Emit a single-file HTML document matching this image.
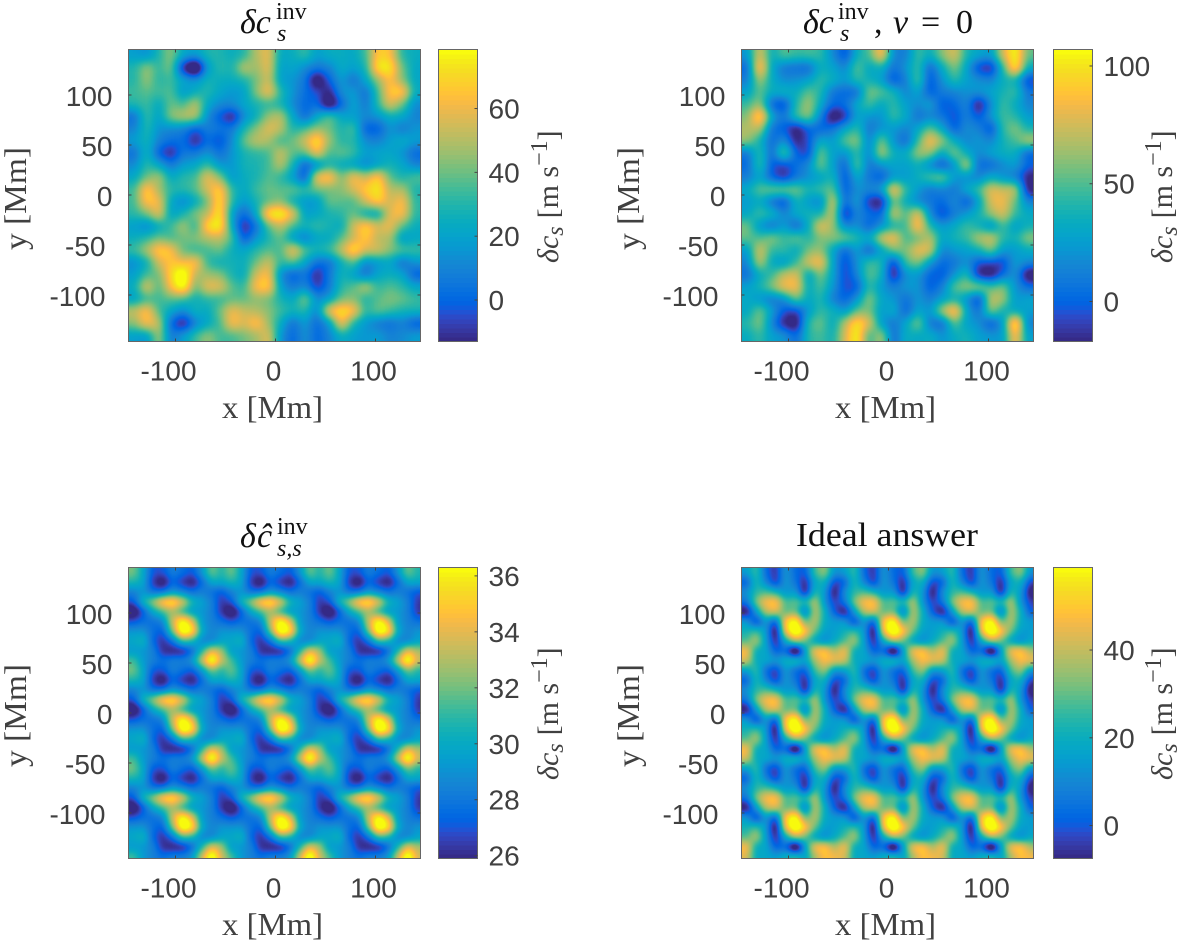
<!DOCTYPE html>
<html>
<head>
<meta charset="utf-8">
<title>Sound speed perturbation maps</title>
<style>
html,body{margin:0;padding:0;background:#fff;}
svg{display:block;}
.tick{font-family:"Liberation Sans",sans-serif;font-size:28px;fill:#404040;}
.lab{font-family:"Liberation Serif",serif;font-size:32px;fill:#404040;}
.cbl{font-family:"Liberation Serif",serif;font-size:30px;fill:#404040;}
.ttl{font-family:"Liberation Serif",serif;font-size:34px;fill:#111;}
.sm{font-size:24px;}
.it{font-style:italic;}
</style>
</head>
<body>
<svg id="fig" xmlns="http://www.w3.org/2000/svg" width="1200" height="946" viewBox="0 0 1200 946">
<rect x="0" y="0" width="1200" height="946" fill="#fff"/>
<defs id="defs"></defs>

<g class="ttl">
<text x="240" y="33" class="it">δc</text>
<text x="276" y="19" class="sm">inv</text>
<text x="277" y="41" class="sm it">s</text>
</g>
<g class="ttl">
<text x="803" y="33" class="it">δc</text>
<text x="838" y="19" class="sm">inv</text>
<text x="840" y="41" class="sm it">s</text>
<text x="874" y="33">,</text>
<text x="893" y="33" class="it">ν</text>
<text x="921" y="33">=</text>
<text x="956" y="33">0</text>
</g>
<g class="ttl">
<text x="240" y="547" class="it">δ</text>
<text x="257" y="547" class="it">ĉ</text>
<text x="277" y="534" class="sm">inv</text>
<text x="277" y="556" class="sm it">s,s</text>
</g>
<text class="ttl" x="796" y="546" textLength="182" lengthAdjust="spacingAndGlyphs">Ideal answer</text>

<text class="lab" x="222" y="418" textLength="101" lengthAdjust="spacingAndGlyphs">x [Mm]</text>
<text class="lab" x="835" y="418" textLength="101" lengthAdjust="spacingAndGlyphs">x [Mm]</text>
<text class="lab" x="222" y="935" textLength="101" lengthAdjust="spacingAndGlyphs">x [Mm]</text>
<text class="lab" x="835" y="935" textLength="101" lengthAdjust="spacingAndGlyphs">x [Mm]</text>

<text class="lab" transform="translate(26,250) rotate(-90)" textLength="103" lengthAdjust="spacingAndGlyphs">y [Mm]</text>
<text class="lab" transform="translate(639,250) rotate(-90)" textLength="103" lengthAdjust="spacingAndGlyphs">y [Mm]</text>
<text class="lab" transform="translate(26,767) rotate(-90)" textLength="103" lengthAdjust="spacingAndGlyphs">y [Mm]</text>
<text class="lab" transform="translate(639,767) rotate(-90)" textLength="103" lengthAdjust="spacingAndGlyphs">y [Mm]</text>

<text class="cbl" transform="translate(558,263) rotate(-90)"><tspan class="it">δc</tspan><tspan class="it sm" dy="5">s</tspan><tspan dx="8" dy="-5">[m s</tspan><tspan class="sm" dy="-11">−1</tspan><tspan dy="11">]</tspan></text>
<text class="cbl" transform="translate(1172,263) rotate(-90)"><tspan class="it">δc</tspan><tspan class="it sm" dy="5">s</tspan><tspan dx="8" dy="-5">[m s</tspan><tspan class="sm" dy="-11">−1</tspan><tspan dy="11">]</tspan></text>
<text class="cbl" transform="translate(558,780) rotate(-90)"><tspan class="it">δc</tspan><tspan class="it sm" dy="5">s</tspan><tspan dx="8" dy="-5">[m s</tspan><tspan class="sm" dy="-11">−1</tspan><tspan dy="11">]</tspan></text>
<text class="cbl" transform="translate(1172,780) rotate(-90)"><tspan class="it">δc</tspan><tspan class="it sm" dy="5">s</tspan><tspan dx="8" dy="-5">[m s</tspan><tspan class="sm" dy="-11">−1</tspan><tspan dy="11">]</tspan></text>
</svg>

<script>
// ---- Chart data (values in m/s, rows from top to bottom) ----
const xTicks = [-100, 0, 100];
const yTicks = [100, 50, 0, -50, -100];

const panel1Limits = [-13, 78.5];
const panel2Limits = [-17, 107];
const panel3Limits = [25.9, 36.3];
const panel4Limits = [-7.5, 58.8];

const panel1Bar = [0, 20, 40, 60];
const panel2Bar = [0, 50, 100];
const panel3Bar = [26, 28, 30, 32, 34, 36];
const panel4Bar = [0, 20, 40];

const panel1Values = [
[28,25,35,45,30,28,35,35,32,35,48,55,30,32,38,28,32,32,30,38,60,58,35,32],
[35,46,36,44,6,-12,28,36,34,50,45,55,28,30,24,20,22,32,28,34,66,66,42,30],
[35,46,35,38,30,26,34,32,32,34,42,52,28,26,20,-2,16,28,18,30,45,58,44,30],
[38,40,38,40,26,32,36,30,26,28,44,58,36,26,18,14,6,26,28,18,38,60,62,32],
[35,38,30,42,38,50,30,24,24,30,34,36,34,24,16,18,-2,16,30,20,36,54,42,24],
[18,38,28,45,50,50,24,14,4,24,32,46,50,30,16,30,42,30,28,24,26,32,30,22],
[22,36,25,24,22,14,22,20,20,34,44,54,50,34,38,45,42,34,40,14,14,26,20,26],
[28,34,22,18,18,6,18,12,24,42,50,48,36,42,52,66,46,35,36,24,22,28,32,28],
[18,34,14,6,20,20,26,18,26,34,36,38,52,40,40,58,38,42,38,28,30,30,26,16],
[24,36,30,20,28,30,38,26,26,34,34,38,50,34,14,22,34,30,28,22,28,34,30,22],
[30,42,48,30,36,38,56,44,26,32,34,40,36,28,12,58,62,42,58,50,62,40,34,40],
[38,62,46,36,36,40,52,62,36,30,38,42,40,42,38,42,42,44,52,60,66,48,48,34],
[38,60,56,30,22,30,42,64,36,26,34,40,44,32,26,26,42,40,38,52,62,50,58,36],
[36,42,56,28,34,44,48,66,28,16,30,66,70,56,28,30,34,36,42,30,28,54,58,36],
[28,22,30,38,48,34,64,68,30,6,18,40,50,38,34,38,34,30,52,62,52,56,40,32],
[32,36,42,38,42,44,48,50,40,12,26,34,42,26,20,30,30,40,50,60,48,48,26,30],
[38,48,62,58,40,36,38,42,32,30,36,40,38,58,40,34,38,50,66,52,52,44,40,38],
[24,32,52,58,56,60,36,32,34,32,42,52,36,40,30,18,18,32,40,22,26,30,18,26],
[28,38,42,62,74,48,46,44,34,30,52,58,24,14,20,6,20,34,28,18,30,32,30,14],
[32,54,38,58,72,40,55,54,40,36,58,62,28,20,24,10,20,36,40,50,36,40,36,30],
[28,36,38,40,38,32,36,36,40,40,44,42,34,30,46,24,28,42,44,34,40,44,42,38],
[50,60,38,30,24,34,30,42,56,50,48,44,38,34,36,22,58,66,60,36,42,38,34,34],
[44,58,50,16,4,22,30,38,58,52,60,46,32,18,28,16,26,58,34,26,20,18,22,14],
[28,26,48,20,28,38,46,38,38,42,46,54,26,16,26,16,22,32,28,26,28,22,24,28]
];

const panel2Values = [
[35,72,42,55,50,52,50,32,16,44,52,82,30,28,52,42,60,72,46,40,36,70,92,55],
[22,85,40,26,24,22,44,40,30,56,40,44,24,35,52,20,42,60,40,14,8,48,92,42],
[28,64,42,32,34,38,50,44,36,50,44,38,16,28,56,16,34,50,38,34,30,44,44,14],
[38,55,42,46,42,56,48,26,22,22,60,55,46,30,40,18,28,30,34,36,40,45,52,26],
[50,62,20,14,48,65,42,22,24,42,52,40,50,38,32,40,18,22,32,4,32,52,42,30],
[58,92,40,26,52,62,30,0,10,40,34,34,52,42,24,30,26,16,30,18,36,52,48,36],
[65,66,24,20,4,22,20,26,40,50,26,34,36,30,40,56,40,18,34,30,14,50,60,45],
[62,45,22,34,8,18,42,36,56,62,28,60,34,22,50,80,62,42,30,36,30,45,52,66],
[26,50,22,62,20,14,60,38,34,50,30,68,44,42,64,62,40,62,42,32,40,44,44,20],
[22,52,18,14,24,32,60,38,20,58,26,34,40,38,44,30,16,34,72,22,22,32,38,22],
[28,40,20,10,26,34,38,46,16,42,26,18,36,36,44,54,60,36,32,30,42,34,28,8],
[42,56,60,62,60,46,52,56,18,34,32,38,82,50,36,26,30,26,42,52,74,68,70,6],
[36,42,24,14,45,36,28,72,22,40,10,4,58,42,30,26,22,34,16,38,72,76,56,30],
[40,52,46,30,42,46,44,70,6,32,24,20,72,52,76,32,14,28,36,45,62,72,50,42],
[58,34,24,38,20,42,76,62,30,34,20,34,44,50,84,46,36,42,52,44,30,52,36,44],
[56,52,62,50,58,46,58,60,60,48,42,72,80,50,54,68,40,46,50,66,72,48,45,62],
[36,72,48,50,40,58,62,40,20,38,20,38,58,58,76,72,30,36,38,44,60,36,36,42],
[30,68,40,34,50,72,80,40,14,34,52,48,10,52,60,36,22,26,34,18,16,14,38,32],
[24,42,50,68,72,36,60,40,14,30,56,46,4,34,36,20,18,34,50,6,2,22,36,0],
[38,46,60,76,78,40,54,36,16,18,50,36,28,36,36,18,28,56,62,64,52,60,34,24],
[42,34,26,32,58,40,48,28,20,34,62,40,36,24,36,28,38,44,34,12,70,64,36,40],
[40,58,38,18,14,36,50,45,34,56,58,36,44,20,40,34,66,88,40,24,62,44,40,38],
[48,60,30,8,2,50,58,40,66,88,72,36,26,40,62,26,22,56,38,34,16,36,98,28],
[42,50,38,36,22,48,52,44,70,92,48,66,22,44,40,44,34,42,46,38,36,36,80,38]
];

// Panels 3 and 4 are periodic: one 98 Mm period of the field.
const panel3Period = [
[32,30.5,28.5,28.5,29.5,29,28.5,30,32,31],
[31,30.5,28,27,28.8,28,27.3,28.8,30.5,30.5],
[29.5,30,29,29,30,29.5,29,29.5,29,28.5],
[28.5,31,32.5,34.5,35,33.5,31,30.3,29.5,28],
[26.8,28.5,30.5,31.5,32.5,31,30,30,29.5,28],
[28.5,29,29,29.5,33,35.5,33.5,30,29.5,29],
[30,30,29,28.5,32,36,35,30.5,29.5,30],
[30.5,31,28.8,27.8,29,31.5,31,29.5,29.5,30.3],
[30,30,29.5,27.8,27.5,27.5,28.8,31,33.5,32.5],
[31.5,30,29.5,29,29.5,29.5,30,33,36,33]
];

const panel4Period = [
[22,30,14,8,22,14,12,30,36,20],
[12,28,18,8,22,16,6,24,26,10],
[20,28,30,26,20,22,4,28,22,4],
[16,34,44,46,30,32,28,38,20,10],
[4,22,38,42,30,32,14,38,26,12],
[22,8,22,10,46,54,30,38,24,22],
[26,30,22,0,44,58,46,32,22,22],
[30,38,22,6,24,38,32,22,18,24],
[44,24,24,12,14,-10,22,44,46,36],
[40,24,24,22,26,30,22,36,44,42]
];

// Parula colour map
const parula = [
[.2081,.1663,.5292],[.2116,.1898,.5777],[.2123,.2138,.6270],[.2081,.2386,.6771],
[.1959,.2645,.7279],[.1707,.2919,.7792],[.1253,.3242,.8303],[.0591,.3598,.8683],
[.0117,.3875,.8820],[.0060,.4086,.8828],[.0165,.4266,.8786],[.0329,.4430,.8720],
[.0498,.4586,.8641],[.0629,.4737,.8554],[.0723,.4887,.8467],[.0779,.5040,.8384],
[.0793,.5200,.8312],[.0749,.5375,.8263],[.0641,.5570,.8240],[.0488,.5772,.8228],
[.0343,.5966,.8199],[.0265,.6137,.8135],[.0239,.6287,.8038],[.0231,.6418,.7913],
[.0228,.6535,.7768],[.0267,.6642,.7607],[.0384,.6743,.7436],[.0590,.6838,.7254],
[.0843,.6928,.7062],[.1133,.7015,.6859],[.1453,.7098,.6646],[.1801,.7177,.6424],
[.2178,.7250,.6193],[.2586,.7317,.5954],[.3022,.7376,.5712],[.3482,.7424,.5473],
[.3953,.7459,.5244],[.4420,.7481,.5033],[.4871,.7491,.4840],[.5300,.7491,.4661],
[.5709,.7485,.4494],[.6099,.7473,.4337],[.6473,.7456,.4188],[.6834,.7435,.4044],
[.7184,.7411,.3905],[.7525,.7384,.3768],[.7858,.7356,.3633],[.8185,.7327,.3498],
[.8507,.7299,.3360],[.8824,.7274,.3217],[.9139,.7258,.3063],[.9450,.7261,.2886],
[.9739,.7314,.2666],[.9938,.7455,.2403],[.9990,.7653,.2164],[.9955,.7861,.1967],
[.9880,.8066,.1794],[.9789,.8271,.1633],[.9697,.8481,.1475],[.9626,.8705,.1309],
[.9589,.8949,.1132],[.9598,.9218,.0948],[.9661,.9514,.0755],[.9763,.9831,.0538]
];

// ---- Rendering ----
const NS = 'http://www.w3.org/2000/svg';
const fig = document.getElementById('fig');
const defs = document.getElementById('defs');

function mk(tag, parent, attrs) {
  const el = document.createElementNS(NS, tag);
  for (const k in attrs) el.setAttribute(k, attrs[k]);
  parent.appendChild(el);
  return el;
}

// Blurs the grey value field (shading interp look), restores its contrast, then applies parula.
function makeFilter(id, sigma, slope, pivot) {
  const f = mk('filter', defs, {id: id, filterUnits: 'userSpaceOnUse', x: 0, y: 0, width: 1200, height: 946, 'color-interpolation-filters': 'sRGB'});
  mk('feGaussianBlur', f, {stdDeviation: sigma});
  const c = mk('feComponentTransfer', f, {});
  const icpt = pivot * (1 - slope);
  ['feFuncR', 'feFuncG', 'feFuncB'].forEach(n => mk(n, c, {type: 'linear', slope: slope, intercept: icpt}));
  const t = mk('feComponentTransfer', f, {});
  mk('feFuncR', t, {type: 'table', tableValues: parula.map(c => c[0]).join(' ')});
  mk('feFuncG', t, {type: 'table', tableValues: parula.map(c => c[1]).join(' ')});
  mk('feFuncB', t, {type: 'table', tableValues: parula.map(c => c[2]).join(' ')});
}
makeFilter('field-1', 5.2, 1.6, 0.62);
makeFilter('field-2', 5.2, 1.6, 0.6);
makeFilter('field-3', 4.2, 1.5, 0.55);
makeFilter('field-4', 4.2, 1.6, 0.62);

function drawPanel(p) {
  const xPx = v => p.left + (v - p.xMin);
  const yPx = v => p.top + (p.yMax - v);
  const grp = mk('g', fig, {});
  
  

  const clipId = p.name + '-clip';
  const cp = mk('clipPath', defs, {id: clipId});
  mk('rect', cp, {x: p.left, y: p.top, width: p.w, height: p.h});

  const clipG = mk('g', grp, {'clip-path': 'url(#' + clipId + ')'});
  const field = mk('g', clipG, {filter: 'url(#' + p.filter + ')', 'shape-rendering': 'crispEdges'});
  
  

  const nRows = p.values.length, nCols = p.values[0].length;
  const rows = p.repeat ? Math.ceil(p.h / p.cell) : nRows;
  const cols = p.repeat ? Math.ceil(p.w / p.cell) : nCols;
  const cw = p.repeat ? p.cell : p.w / cols;
  const ch = p.repeat ? p.cell : p.h / rows;
  const pad = 30;
  for (let r = 0; r < rows; r++) {
    for (let c = 0; c < cols; c++) {
      const v = p.values[r % nRows][c % nCols];
      const t = Math.max(0, Math.min(1, (v - p.limits[0]) / (p.limits[1] - p.limits[0])));
      const g = Math.round(t * 255);
      const x0 = xPx(p.xMin + c * cw) - (c === 0 ? pad : 0);
      const x1 = xPx(p.xMin + (c + 1) * cw) + (c === cols - 1 ? pad : 0);
      const y0 = yPx(p.yMax - r * ch) - (r === 0 ? pad : 0);
      const y1 = yPx(p.yMax - (r + 1) * ch) + (r === rows - 1 ? pad : 0);
      const cell = mk('rect', field, {x: x0, y: y0, width: x1 - x0 + 0.5, height: y1 - y0 + 0.5, fill: 'rgb(' + g + ',' + g + ',' + g + ')'});
      
      
    }
  }

  const frame = mk('rect', grp, {x: p.left, y: p.top, width: p.w, height: p.h, fill: 'none', stroke: '#666', 'stroke-width': 1});
  
  

  xTicks.forEach(v => {
    const x = xPx(v);
    const t1 = mk('line', grp, {x1: x, x2: x, y1: p.top, y2: p.top + 3, stroke: '#444'});
    
    
    const t2 = mk('line', grp, {x1: x, x2: x, y1: p.top + p.h, y2: p.top + p.h - 3, stroke: '#444'});
    
    
    const lbl = mk('text', grp, {class: 'tick', x: x + (v < 0 ? -7 : -2), y: p.top + p.h + 39, 'text-anchor': 'middle'});
    lbl.textContent = String(v);
    
    
  });
  yTicks.forEach(v => {
    const y = yPx(v);
    const t1 = mk('line', grp, {x1: p.left, x2: p.left + 3, y1: y, y2: y, stroke: '#444'});
    
    
    const t2 = mk('line', grp, {x1: p.left + p.w, x2: p.left + p.w - 3, y1: y, y2: y, stroke: '#444'});
    
    
    const lbl = mk('text', grp, {class: 'tick', x: p.left + (v < 0 ? -23 : -16), y: y + 11, 'text-anchor': 'end'});
    lbl.textContent = String(v);
    
    
  });

  // colour bar
  const bar = mk('g', grp, {'shape-rendering': 'crispEdges'});
  
  
  const barX = p.barX, barW = 39, barH = p.h;
  const barY = v => p.top + (p.limits[1] - v) / (p.limits[1] - p.limits[0]) * barH;
  parula.forEach((c, i) => {
    const v0 = p.limits[0] + (i + 1) / parula.length * (p.limits[1] - p.limits[0]);
    const v1 = p.limits[0] + i / parula.length * (p.limits[1] - p.limits[0]);
    const s = mk('rect', bar, {x: barX, y: barY(v0), width: barW, height: barY(v1) - barY(v0) + 0.6,
      fill: 'rgb(' + c.map(u => Math.round(u * 255)).join(',') + ')'});
    
    
  });
  const barFrame = mk('rect', grp, {x: barX, y: p.top, width: barW, height: barH, fill: 'none', stroke: '#666'});
  
  
  p.barTicks.forEach(v => {
    const y = barY(v);
    const t = mk('line', grp, {x1: barX + barW, x2: barX + barW - 3, y1: y, y2: y, stroke: '#444'});
    
    
    const lbl = mk('text', grp, {class: 'tick', x: barX + barW + 11, y: y + 10});
    lbl.textContent = String(v);
    
    
  });
}

drawPanel({name: 'panel-1', left: 128.5, top: 49.5, w: 292, h: 292, barX: 438.5, xMin: -147, yMax: 145.5, values: panel1Values, limits: panel1Limits, barTicks: panel1Bar, filter: 'field-1'});
drawPanel({name: 'panel-2', left: 741.5, top: 49.5, w: 292, h: 292, barX: 1053.5, xMin: -147, yMax: 145.5, values: panel2Values, limits: panel2Limits, barTicks: panel2Bar, filter: 'field-2'});
drawPanel({name: 'panel-3', left: 128.5, top: 567.5, w: 292, h: 291, barX: 438.5, xMin: -147, yMax: 145.5, values: panel3Period, limits: panel3Limits, barTicks: panel3Bar, filter: 'field-3', repeat: true, cell: 9.8});
drawPanel({name: 'panel-4', left: 741.5, top: 567.5, w: 292, h: 291, barX: 1053.5, xMin: -147, yMax: 145.5, values: panel4Period, limits: panel4Limits, barTicks: panel4Bar, filter: 'field-4', repeat: true, cell: 9.8});
</script>
</body>
</html>
